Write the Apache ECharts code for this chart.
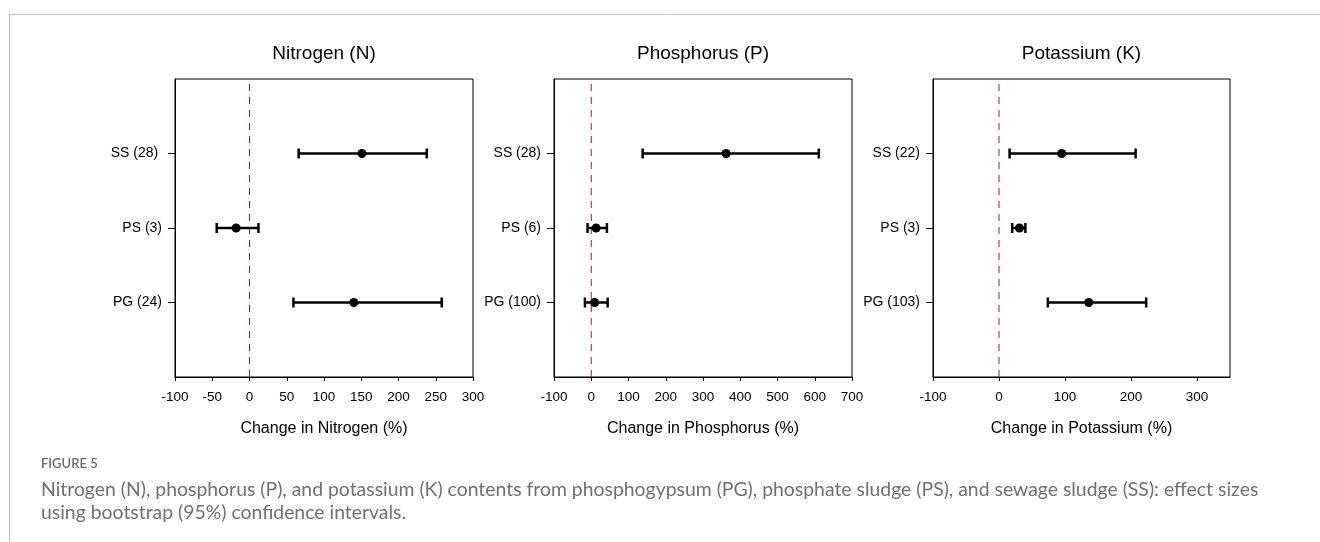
<!DOCTYPE html>
<html>
<head>
<meta charset="utf-8">
<title>Figure 5</title>
<script src="https://cdn.jsdelivr.net/npm/echarts@6/dist/echarts.min.js"></script>
<style>
  html, body { margin: 0; padding: 0; background: #fff; }
  #chart { width: 1320px; height: 542px; }
</style>
</head>
<body>
<div id="chart"></div>
<script>
// rows from bottom to top: PG, PS, SS
const rowPos = [1, 2, 3]

// Nitrogen
const nLabels = ['PG (24)', 'PS (3)', 'SS (28) ']
const nMean = [140, -18, 151]
const nLow = [59, -44, 66]
const nHigh = [258, 12, 238]

// Phosphorus
const pLabels = ['PG (100)', 'PS (6)', 'SS (28)']
const pMean = [9, 13, 362]
const pLow = [-17, -10, 138]
const pHigh = [44, 42, 611]

// Potassium
const kLabels = ['PG (103)', 'PS (3)', 'SS (22)']
const kMean = [136, 31, 95]
const kLow = [74, 20, 16]
const kHigh = [223, 40, 207]

const titles = ['Nitrogen (N)', 'Phosphorus (P)', 'Potassium (K)']
const xNames = ['Change in Nitrogen (%)', 'Change in Phosphorus (%)', 'Change in Potassium (%)']
const xMin = [-100, -100, -100]
const xMax = [300, 700, 350]
const xStep = [50, 100, 100]
const kTicks = [-100, 0, 100, 200, 300]
const zeroLine = 0

const captionHead = 'FIGURE 5'
const captionLines = [
  'Nitrogen (N), phosphorus (P), and potassium (K) contents from phosphogypsum (PG), phosphate sludge (PS), and sewage sludge (SS): effect sizes',
  'using bootstrap (95%) confidence intervals.'
]

const FONT = "'Liberation Sans', Arial, sans-serif"
const grids = [
  { left: 175, top: 79, width: 298, height: 298 },
  { left: 554, top: 79, width: 298, height: 298 },
  { left: 933, top: 79, width: 297, height: 298 }
]

const panels = [
  { labels: nLabels, mean: nMean, low: nLow, high: nHigh },
  { labels: pLabels, mean: pMean, low: pLow, high: pHigh },
  { labels: kLabels, mean: kMean, low: kLow, high: kHigh }
]

// horizontal CI bar with end caps and a dot at the mean
const errorBarItem = (params, api) => {
  const y = api.value(0)
  const lo = api.coord([api.value(1), y])
  const mid = api.coord([api.value(2), y])
  const hi = api.coord([api.value(3), y])
  const cap = 5
  const stroke = { stroke: '#000', lineWidth: 2.5 }
  return {
    type: 'group',
    children: [
      { type: 'line', shape: { x1: lo[0], y1: lo[1], x2: hi[0], y2: hi[1] }, style: stroke },
      { type: 'line', shape: { x1: lo[0], y1: lo[1] - cap, x2: lo[0], y2: lo[1] + cap }, style: stroke },
      { type: 'line', shape: { x1: hi[0], y1: hi[1] - cap, x2: hi[0], y2: hi[1] + cap }, style: stroke },
      { type: 'circle', shape: { cx: mid[0], cy: mid[1], r: 4.5 }, style: { fill: '#000' } }
    ]
  }
}

const chart = echarts.init(document.getElementById('chart'))

const xAxis = panels.map((p, i) => ({
  type: 'value',
  gridIndex: i,
  min: xMin[i],
  max: xMax[i],
  interval: xStep[i],
  name: xNames[i],
  nameLocation: 'middle',
  nameGap: 44,
  nameTextStyle: { color: '#000', fontSize: 16, fontFamily: FONT },
  splitLine: { show: false },
  axisLine: { show: true, onZero: false, lineStyle: { color: '#000', width: 1 } },
  axisTick: { show: true, length: 4, lineStyle: { color: '#000' }, customValues: i === 2 ? kTicks : undefined },
  axisLabel: { color: '#000', fontSize: 13.5, fontFamily: FONT, margin: 13, customValues: i === 2 ? kTicks : undefined }
}))

const yAxis = panels.map((p, i) => ({
  type: 'value',
  gridIndex: i,
  min: 0,
  max: 4,
  splitLine: { show: false },
  axisLine: { show: true, onZero: false, lineStyle: { color: '#000', width: 1 } },
  axisTick: { show: true, length: 7, lineStyle: { color: '#000' }, customValues: rowPos },
  axisLabel: {
    color: '#000',
    fontSize: 14,
    fontFamily: FONT,
    margin: 13,
    customValues: rowPos,
    formatter: v => p.labels[rowPos.indexOf(v)] || ''
  }
}))

const series = []
panels.forEach((p, i) => {
  // dashed reference line at zero change
  series.push({
    type: 'line',
    xAxisIndex: i,
    yAxisIndex: i,
    data: [[zeroLine, 0], [zeroLine, 4]],
    symbol: 'none',
    silent: true,
    z: 1,
    lineStyle: { color: '#a81818', width: 1, type: [7, 6] }
  })
  series.push({
    type: 'custom',
    xAxisIndex: i,
    yAxisIndex: i,
    z: 3,
    renderItem: errorBarItem,
    encode: { x: [1, 2, 3], y: 0 },
    data: rowPos.map((r, j) => [r, p.low[j], p.mean[j], p.high[j]])
  })
})

const graphic = [
  // page frame lines
  { type: 'line', shape: { x1: 9, y1: 14.5, x2: 1320, y2: 14.5 }, style: { stroke: '#c4c4c4', lineWidth: 1 } },
  { type: 'line', shape: { x1: 9.5, y1: 14, x2: 9.5, y2: 542 }, style: { stroke: '#c4c4c4', lineWidth: 1 } },
  { type: 'text', x: 41, y: 464, style: { text: captionHead, fill: '#6b6b6b', font: '600 13px Lato, sans-serif', textVerticalAlign: 'middle' } },
  { type: 'text', x: 41, y: 490, style: { text: captionLines[0], fill: '#707070', font: '19.4px Lato, sans-serif', textVerticalAlign: 'middle' } },
  { type: 'text', x: 41, y: 513, style: { text: captionLines[1], fill: '#707070', font: '19.4px Lato, sans-serif', textVerticalAlign: 'middle' } }
]
grids.forEach((g, i) => {
  graphic.push({
    type: 'text',
    x: g.left + g.width / 2,
    y: 54,
    style: { text: titles[i], fill: '#000', font: '19px ' + FONT, textAlign: 'center', textVerticalAlign: 'middle' }
  })
})

chart.setOption({
  animation: false,
  backgroundColor: '#fff',
  grid: grids.map(g => ({ ...g, show: true, borderColor: '#000', borderWidth: 1, backgroundColor: 'transparent' })),
  xAxis,
  yAxis,
  series,
  graphic
})
</script>
</body>
</html>
